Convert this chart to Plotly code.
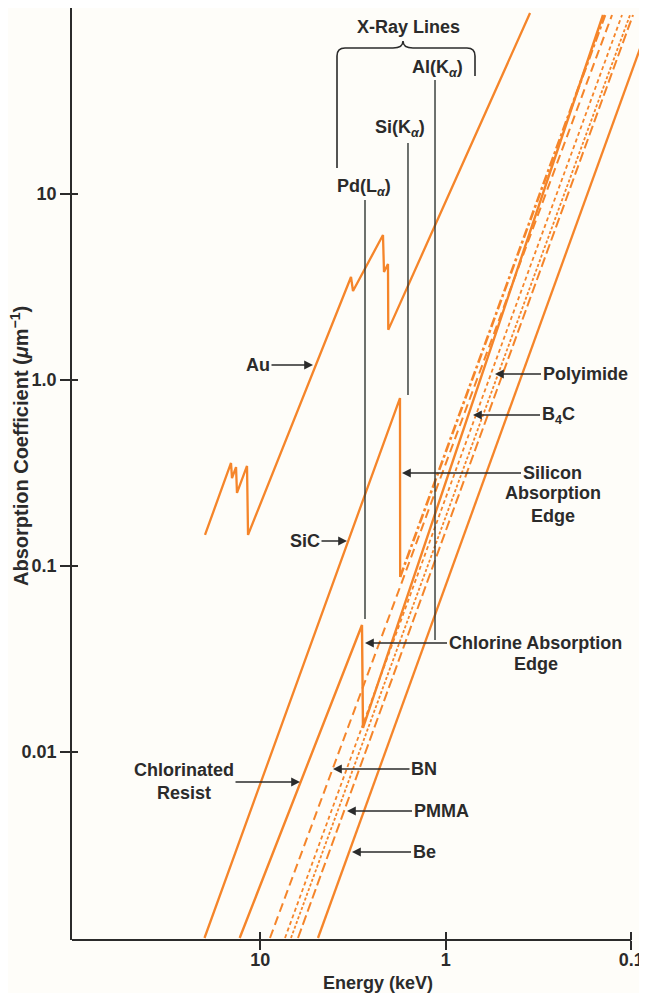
import plotly.graph_objects as go

# ---------------- data ----------------
au_energy = [19.84, 14.37, 14.19, 13.50, 13.34, 11.78, 11.63, 3.24, 3.16, 2.178, 2.151, 2.047, 2.04, 0.351]
au_mu = [0.147, 0.358, 0.297, 0.340, 0.247, 0.345, 0.147, 3.58, 3.01, 6.02, 3.81, 4.20, 1.86, 94.0]

sic_energy = [19.97, 1.764, 1.76]
sic_mu = [0.001, 0.80, 0.0873]
sic_above_edge_energy = [1.76, 0.1384]
sic_above_edge_mu = [0.0873, 91.7]

clres_energy = [12.90, 2.827, 2.792, 0.1419]
clres_mu = [0.001, 0.0482, 0.01346, 91.7]

bn_energy = [8.856, 0.1269]
bn_mu = [0.001, 91.7]
b4c_energy = [7.351, 0.1121]
b4c_mu = [0.001, 91.7]
polyimide_energy = [6.823, 0.1015]
polyimide_mu = [0.001, 91.7]
pmma_energy = [6.256, 0.0978]
pmma_mu = [0.001, 91.7]
be_energy = [4.880, 0.0874]
be_mu = [0.001, 64.8]

xray_names = ["Pd(L<sub><i>α</i></sub>)", "Si(K<sub><i>α</i></sub>)", "Al(K<sub><i>α</i></sub>)"]
xray_energy = [2.723, 1.597, 1.142]
xray_mu_top = [9.29, 18.8, 41.0]
xray_mu_bottom = [0.0519, 0.831, 0.040]

x_tickvals = [10, 1, 0.1]
x_ticktext = ["10", "1", "0.1"]
y_tickvals = [10, 1, 0.1, 0.01]
y_ticktext = ["10", "1.0", "0.1", "0.01"]

# ---------------- style ----------------
W, H = 647, 993
OFF = 8                      # page body margin of the html page
ML, MR, MT, MB = 64, 10, 0, 61
PW, PH = W - ML - MR, H - MT - MB
XR = [2.0146, -1.0744]
YR = [-3.0108, 2.0]
ORANGE = "#f5852a"
INK = "#2b2b2b"
BG = "#fefdf9"
FONT = "Liberation Sans, Arial, sans-serif"
FS = 18

fig = go.Figure()

def add_line(x, y, dash="solid", width=2.3, color=ORANGE):
    fig.add_trace(go.Scatter(x=x, y=y, mode="lines", showlegend=False, hoverinfo="skip",
                             line=dict(color=color, width=width, dash=dash)))

add_line(au_energy, au_mu)
add_line(sic_energy, sic_mu)
add_line(sic_above_edge_energy, sic_above_edge_mu, dash="10px,3px,3px,3px", width=2.6)
add_line(clres_energy, clres_mu, width=2.4)
add_line(bn_energy, bn_mu, dash="9px,5px", width=2.0)
add_line(b4c_energy, b4c_mu, dash="4px,3px", width=1.8)
add_line(polyimide_energy, polyimide_mu, dash="3px,2px", width=1.8)
add_line(pmma_energy, pmma_mu, dash="10px,4px", width=2.0)
add_line(be_energy, be_mu, width=2.3)

for e, top, bot in zip(xray_energy, xray_mu_top, xray_mu_bottom):
    add_line([e, e], [top, bot], width=1.4, color="#2f3533")

# ---------------- annotations ----------------
def txt(x, y, text, ax=None, ay=0, align="center"):
    a = dict(x=x, y=y, xref="x", yref="y", text=text, align=align,
             xanchor="center", yanchor="middle",
             font=dict(family=FONT, size=FS, color=INK, weight="bold"))
    if ax is None:
        a.update(showarrow=False)
    else:
        a.update(showarrow=True, ax=ax, ay=ay, arrowhead=2, arrowsize=1.1,
                 arrowwidth=1.6, arrowcolor=INK, standoff=0)
    fig.add_annotation(**a)

# arrow labels (x, y in log10 data units)
txt(0.7154, 0.0806, "Au", ax=-55)
txt(0.5321, -0.8656, "SiC", ax=-42)
txt(-0.2658, 0.0323, "Polyimide", ax=90)
txt(-0.1472, -0.1882, "B<sub>4</sub>C", ax=85)
txt(0.2356, -0.5, "Silicon", ax=150)
txt(-0.5784, -0.672, "Absorption<br>Edge")
txt(0.435, -1.414, "Chlorine Absorption", ax=170)
txt(-0.4868, -1.527, "Edge")
txt(0.7854, -2.1613, "Chlorinated<br>Resist", ax=-116)
txt(0.6075, -2.0914, "BN", ax=91)
txt(0.5321, -2.3172, "PMMA", ax=94)
txt(0.5051, -2.5376, "Be", ax=72)

# X-ray line labels
txt(0.2032, 1.8978, "X-Ray Lines")
txt(0.0469, 1.6774, xray_names[2])
txt(0.2464, 1.3548, xray_names[1])
txt(0.4404, 1.0376, xray_names[0])

# page pixel -> paper helper (for titles and the brace only)
def pxx(xp):
    return (xp - OFF - ML) / PW

def pxy(yp):
    return (H - MB - (yp - OFF)) / PH

def px(xp, yp):
    return f"{pxx(xp):.5f},{pxy(yp):.5f}"

# axis titles
fig.add_annotation(x=pxx(378), y=pxy(983), xref="paper", yref="paper",
                   xanchor="center", yanchor="middle",
                   text="Energy (keV)", showarrow=False,
                   font=dict(family=FONT, size=FS, color=INK, weight="bold"))
fig.add_annotation(x=pxx(20), y=pxy(446), xref="paper", yref="paper",
                   xanchor="center", yanchor="middle",
                   text="Absorption Coefficient (<i>μ</i>m<sup>−1</sup>)", textangle=-90,
                   showarrow=False, font=dict(family=FONT, size=20, color=INK, weight="bold"))

# brace over the X-ray lines
brace = (f"M {px(337,168)} L {px(337,56)} Q {px(337,48)} {px(345,48)} L {px(393,48)} "
         f"Q {px(403,48)} {px(403,41)} Q {px(403,48)} {px(413,48)} L {px(467,48)} "
         f"Q {px(475,48)} {px(475,56)} L {px(475,76)}")
fig.add_shape(type="path", path=brace, xref="paper", yref="paper",
              line=dict(color=INK, width=1.6))

# x axis line ending at 0.1 keV
x_end = (-1 - XR[0]) / (XR[1] - XR[0])
fig.add_shape(type="line", xref="paper", yref="paper", x0=0, x1=x_end, y0=0, y1=0,
              line=dict(color=INK, width=1.8))

axis_common = dict(showgrid=False, zeroline=False)
fig.update_layout(
    width=W, height=H, margin=dict(l=ML, r=MR, t=MT, b=MB),
    paper_bgcolor=BG, plot_bgcolor=BG,
    xaxis=dict(type="log", range=XR, tickvals=x_tickvals, ticktext=x_ticktext,
               ticks="outside", ticklen=9, tickwidth=1.6, tickcolor=INK, showline=False,
               ticklabelstandoff=-6,
               tickfont=dict(family=FONT, size=FS, color=INK, weight="bold"), **axis_common),
    yaxis=dict(type="log", range=YR, tickvals=y_tickvals, ticktext=y_ticktext,
               ticks="outside", ticklen=10, tickwidth=1.6, tickcolor=INK,
               showline=True, linecolor=INK, linewidth=1.8,
               tickfont=dict(family=FONT, size=FS, color=INK, weight="bold"), **axis_common),
    xaxis2=dict(type="log", range=XR, overlaying="x", matches="x", tickvals=x_tickvals,
                ticks="inside", ticklen=8, tickwidth=1.6, tickcolor=INK,
                showticklabels=False, showline=False, anchor="y", side="bottom", **axis_common),
    yaxis2=dict(type="log", range=YR, overlaying="y", tickvals=y_tickvals,
                ticks="inside", ticklen=6, tickwidth=1.6, tickcolor=INK,
                showticklabels=False, showline=False, anchor="x", side="left", **axis_common),
)
fig.add_trace(go.Scatter(x=[1], y=[1], xaxis="x2", yaxis="y2", mode="markers",
                         marker=dict(opacity=0), showlegend=False, hoverinfo="skip"))

fig.write_html("out.html")
